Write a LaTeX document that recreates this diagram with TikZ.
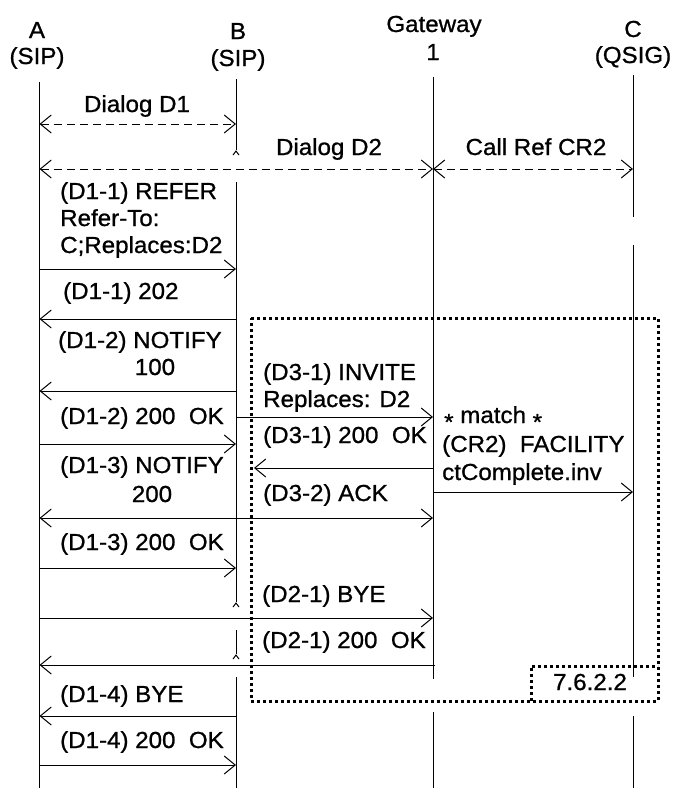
\documentclass[tikz,border=0pt]{standalone}
\usepackage{fontspec}
\setmainfont{Liberation Sans}[FakeStretch=1.04,FakeBold=0.9]
\usetikzlibrary{arrows.meta}
\begin{document}
\begin{tikzpicture}[x=1pt,y=-1pt,
  life/.style={line width=1pt},
  tip/.tip={Straight Barb[length=11pt,width=18pt,line width=1pt]},
  msg/.style={line width=1pt,-tip},
  dmsg/.style={line width=1pt,dash pattern=on 8pt off 5pt,tip-tip},
  lbl/.style={inner sep=0pt,anchor=base west,font=\fontsize{23.2}{27}\selectfont},
  clbl/.style={lbl,anchor=base},
  dotbox/.style={line width=3pt,dash pattern=on 3pt off 3pt},
  caret/.style={line width=1pt}]
\useasboundingbox (0,0) rectangle (677,788);
% headers
\node[clbl] (hA1) at (37,38) {A};
\node[clbl] (hA2) at (37,64) {(SIP)};
\node[clbl] (hB1) at (238,39) {B};
\node[clbl] (hB2) at (238,66) {(SIP)};
\node[clbl] (hG1) at (434,32) {Gateway};
\node[clbl] (hG2) at (433,60) {1};
\node[clbl] (hC1) at (633,37) {C};
\node[clbl] (hC2) at (633,63) {(QSIG)};
% lifeline coordinates
\coordinate (At) at (39.5,82);  \coordinate (Ab) at (39.5,788);
\coordinate (B1t) at (236,79);  \coordinate (B1b) at (236,150);
\coordinate (B2t) at (236,182); \coordinate (B2b) at (236,602);
\coordinate (B3t) at (236,630); \coordinate (B3b) at (236,654);
\coordinate (B4t) at (236,677); \coordinate (B4b) at (236,788);
\coordinate (G1t) at (433,77);  \coordinate (G1b) at (433,679);
\coordinate (G2t) at (433,712); \coordinate (G2b) at (433,788);
\coordinate (C1t) at (633,75);  \coordinate (C1b) at (633,217);
\coordinate (C2t) at (633,245); \coordinate (C2b) at (633,677);
\coordinate (C3t) at (633,716); \coordinate (C3b) at (633,788);
\draw[life] (At) -- (Ab);
\draw[life] (B1t) -- (B1b);
\draw[life] (B2t) -- (B2b);
\draw[life] (B3t) -- (B3b);
\draw[life] (B4t) -- (B4b);
\draw[life] (G1t) -- (G1b);
\draw[life] (G2t) -- (G2b);
\draw[life] (C1t) -- (C1b);
\draw[life] (C2t) -- (C2b);
\draw[life] (C3t) -- (C3b);
% carets at broken ends of B
\draw[caret] (B1b) ++(-3,5) -- ++(3,-4) -- ++(3,4);
\draw[caret] (B2b) ++(-3,5) -- ++(3,-4) -- ++(3,4);
\draw[caret] (B3b) ++(-3,5) -- ++(3,-4) -- ++(3,4);
% dialogs
\coordinate (d1a) at (39.5,124); \coordinate (d1b) at (236,124);
\draw[dmsg] (d1a) -- (d1b);
\node[clbl] (tD1) at (137,112) {Dialog D1};
\coordinate (d2a) at (39.5,169); \coordinate (d2g) at (433,169);
\draw[dmsg] (d2a) -- (d2g);
\node[clbl] (tD2) at (329,155) {Dialog D2};
\coordinate (cr2g) at (433,169); \coordinate (cr2c) at (633,169);
\draw[dmsg] (cr2g) -- (cr2c);
\node[clbl] (tCR) at (536,155) {Call Ref CR2};
% D1-1 REFER
\coordinate (m1a) at (39.5,269); \coordinate (m1b) at (236,269);
\draw[msg] (m1a) -- (m1b);
\node[lbl] (t1a) at (60,199) {(D1-1) REFER};
\node[lbl] (t1b) at (60,226) {Refer-To:};
\node[lbl] (t1c) at (60,253) {C;Replaces:D2};
% D1-1 202
\coordinate (m2b) at (236,319); \coordinate (m2a) at (39.5,319);
\draw[msg] (m2b) -- (m2a);
\node[lbl] (t2) at (63,299) {(D1-1) 202};
% D1-2 NOTIFY
\coordinate (m3b) at (236,391); \coordinate (m3a) at (39.5,391);
\draw[msg] (m3b) -- (m3a);
\node[lbl] (t3a) at (58,348) {(D1-2) NOTIFY};
\node[clbl] (t3b) at (155,375) {100};
% D3-1 INVITE
\coordinate (m4b) at (236,417); \coordinate (m4g) at (433,417);
\draw[msg] (m4b) -- (m4g);
\node[lbl] (t4a) at (263,380) {(D3-1) INVITE};
\node[lbl] (t4b) at (263,407) {Replaces: D2};
% D1-2 200 OK
\coordinate (m5a) at (39.5,444); \coordinate (m5b) at (236,444);
\draw[msg] (m5a) -- (m5b);
\node[lbl] (t5) at (60,424) {(D1-2) 200\ \ OK};
% D3-1 200 OK
\coordinate (m6g) at (433,468); \coordinate (m6e) at (254,468);
\draw[msg] (m6g) -- (m6e);
\node[lbl] (t6) at (263,443) {(D3-1) 200\ \ OK};
% match / FACILITY
\node[lbl] (t7a) at (444,423) {\raisebox{-0.3em}{*} match \raisebox{-0.3em}{*}};
\node[lbl] (t7b) at (442,452) {(CR2)\ \ FACILITY};
\node[lbl] (t7c) at (442,480) {ctComplete.inv};
\coordinate (m7g) at (433,492); \coordinate (m7c) at (633,492);
\draw[msg] (m7g) -- (m7c);
% D1-3 NOTIFY
\coordinate (m8b) at (236,518); \coordinate (m8a) at (39.5,518);
\draw[msg] (m8b) -- (m8a);
\node[lbl] (t8a) at (60,473) {(D1-3) NOTIFY};
\node[clbl] (t8b) at (152,502) {200};
% D3-2 ACK
\coordinate (m9b) at (236,518); \coordinate (m9g) at (433,518);
\draw[msg] (m9b) -- (m9g);
\node[lbl] (t9) at (263,501) {(D3-2) ACK};
% D1-3 200 OK
\coordinate (m10a) at (39.5,568); \coordinate (m10b) at (236,568);
\draw[msg] (m10a) -- (m10b);
\node[lbl] (t10) at (60,550) {(D1-3) 200\ \ OK};
% D2-1 BYE
\coordinate (m11a) at (39.5,618); \coordinate (m11g) at (433,618);
\draw[msg] (m11a) -- (m11g);
\node[lbl] (t11) at (262,602) {(D2-1) BYE};
% D2-1 200 OK
\coordinate (m12g) at (435,665); \coordinate (m12a) at (39.5,665);
\draw[msg] (m12g) -- (m12a);
\node[lbl] (t12) at (262,648) {(D2-1) 200\ \ OK};
% D1-4 BYE
\coordinate (m13b) at (236,716); \coordinate (m13a) at (39.5,716);
\draw[msg] (m13b) -- (m13a);
\node[lbl] (t13) at (60,702) {(D1-4) BYE};
% D1-4 200 OK
\coordinate (m14a) at (39.5,765); \coordinate (m14b) at (236,765);
\draw[msg] (m14a) -- (m14b);
\node[lbl] (t14) at (60,748) {(D1-4) 200\ \ OK};
% dotted box
\coordinate (bx1) at (251,318); \coordinate (bx2) at (658,318);
\coordinate (bx3) at (658,701); \coordinate (bx4) at (251,701);
\coordinate (bx5) at (531,701); \coordinate (bx6) at (531,666);
\coordinate (bx7) at (658,666);
\draw[dotbox] (bx1) -- (bx2) -- (bx3) -- (bx4) -- cycle;
\draw[dotbox] (bx5) -- (bx6) -- (bx7);
\node[clbl] (tsec) at (590,690) {7.6.2.2};
\end{tikzpicture}
\end{document}
